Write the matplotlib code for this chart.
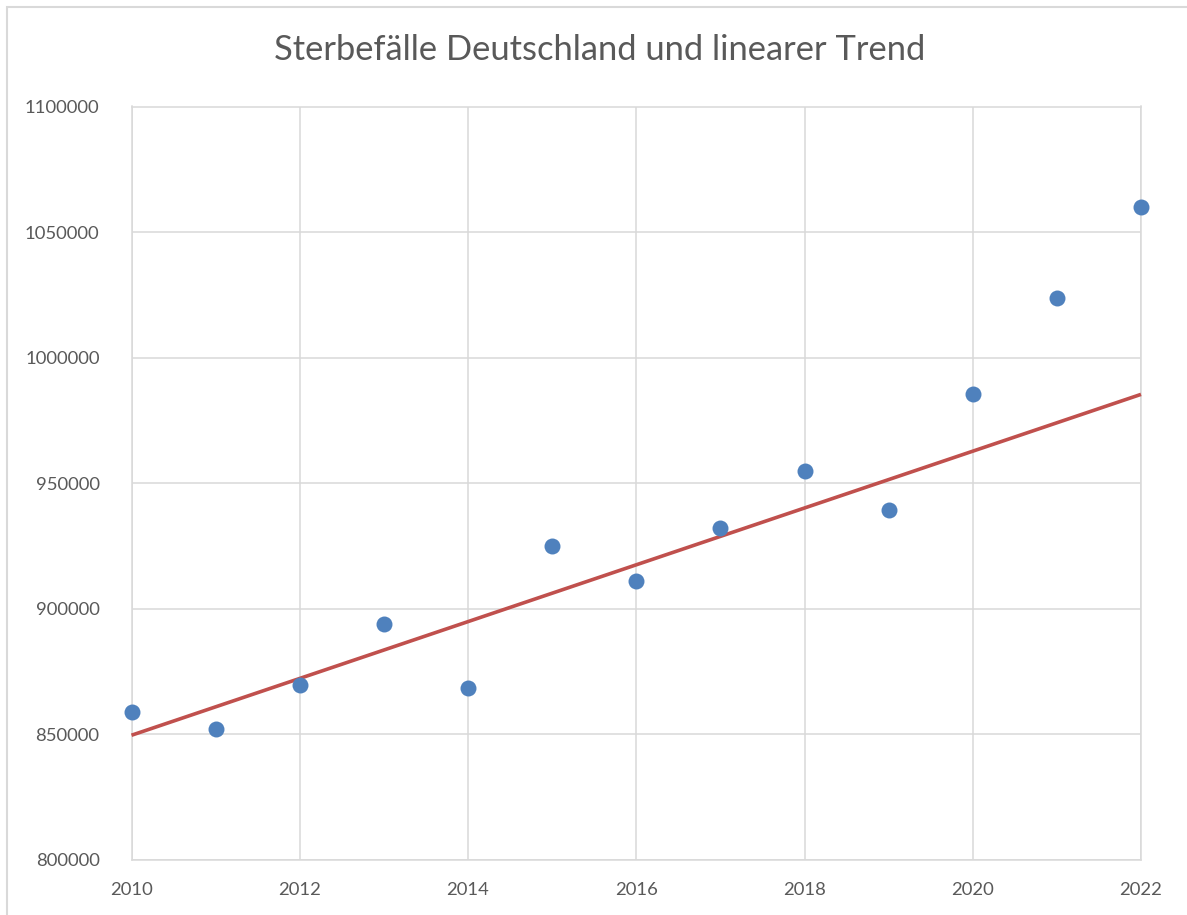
import numpy as np
import matplotlib
matplotlib.use("Agg")
import matplotlib.pyplot as plt
from matplotlib.patches import Rectangle

years = [2010, 2011, 2012, 2013, 2014, 2015, 2016, 2017, 2018, 2019, 2020, 2021, 2022]
deaths = [858768, 852328, 869582, 893825, 868356, 925200, 910899, 932272,
          954874, 939520, 985572, 1023687, 1060000]
fit_years = [2010, 2011, 2012, 2013, 2014, 2015, 2016, 2017, 2018, 2019]
title = "Sterbefälle Deutschland und linearer Trend"
x_ticks = [2010, 2012, 2014, 2016, 2018, 2020, 2022]
y_ticks = [800000, 850000, 900000, 950000, 1000000, 1050000, 1100000]

plt.rcParams['font.family'] = ['Lato', 'DejaVu Sans']
W, H = 1187, 915
fig = plt.figure(figsize=(W / 100, H / 100), dpi=100)
fig.patch.set_facecolor('white')

# outer chart border
fig.patches.append(Rectangle((7 / W, -0.05), 1.1, 1 - 7 / H + 0.05,
                             transform=fig.transFigure, fill=False,
                             edgecolor='#D9D9D9', linewidth=1.5))

left, right, top, bottom = 131.5, 1141, 106.5, 860
ax = fig.add_axes([left / W, 1 - bottom / H, (right - left) / W, (bottom - top) / H])

n_fit = len(fit_years)
coef = np.polyfit(np.array(fit_years), np.array(deaths[:n_fit]), 1)
trend_x = np.array([years[0], years[-1]])
trend_y = np.polyval(coef, trend_x)

ax.plot(trend_x, trend_y, color='#C0504D', linewidth=2.6, zorder=3, clip_on=False,
        solid_capstyle='butt')
ax.plot(years, deaths, linestyle='none', marker='o', markersize=11.5,
        color='#4F81BD', markeredgewidth=0, zorder=4, clip_on=False)

ax.set_xlim(2010, 2022)
ax.set_ylim(800000, 1100000)
ax.set_xticks(x_ticks)
ax.set_yticks(y_ticks)
ax.set_xticklabels([str(v) for v in x_ticks])
ax.set_yticklabels([str(v) for v in y_ticks])
ax.grid(True, color='#D9D9D9', linewidth=1.1, zorder=0)
ax.set_axisbelow(True)
for s in ax.spines.values():
    s.set_color('#D9D9D9')
    s.set_linewidth(1.1)
ax.tick_params(axis='both', length=0, labelsize=13.3, colors='#595959')
ax.tick_params(axis='x', pad=16)
ax.tick_params(axis='y', pad=23)

fig.text(600 / W, 1 - 50 / H, title, ha='center', va='center',
         fontsize=24.8, color='#595959')

fig.savefig('out.png', dpi=100, facecolor='white')
